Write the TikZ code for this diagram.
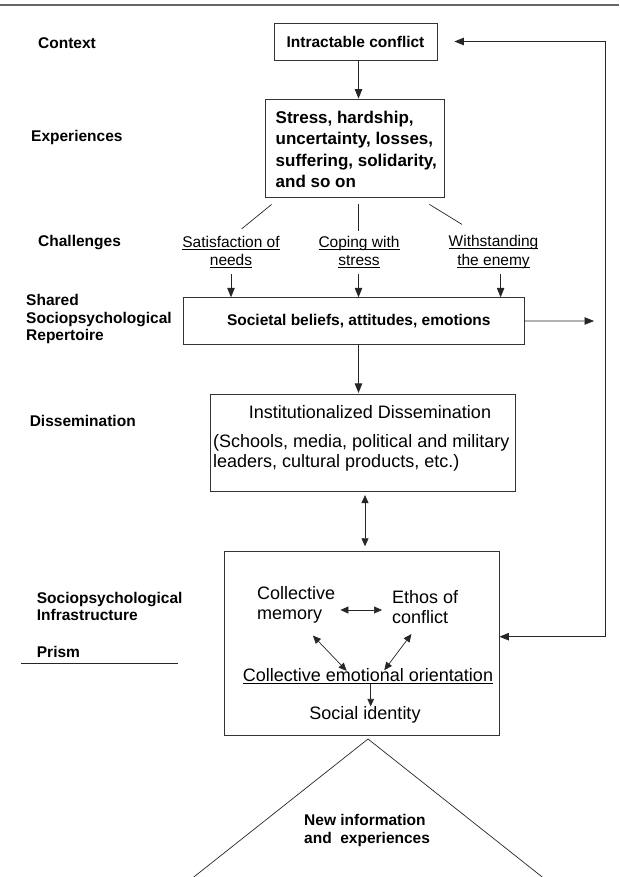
\documentclass[tikz,border=0pt]{standalone}
\usepackage{fontspec}
\setmainfont{Liberation Sans}
\usetikzlibrary{arrows.meta}
\newsavebox{\cajasub}
\newcommand{\subr}[1]{\sbox{\cajasub}{#1}\rlap{\rule[-2.2pt]{\wd\cajasub}{0.7pt}}\usebox{\cajasub}}

\begin{document}
\begin{tikzpicture}[x=1pt, y=-1pt,
    caja/.style={draw=black!80, line width=0.8pt, inner sep=0pt},
    linea/.style={black!85, line width=0.7pt},
    flecha/.style={linea, -{Triangle[length=9.5pt,width=7.5pt]}},
    flechita/.style={linea, -{Triangle[length=7.5pt,width=6.5pt]}},
    dflecha/.style={linea, {Triangle[length=8pt,width=7pt]}-{Triangle[length=8pt,width=7pt]}},
    etiq/.style={anchor=west, align=left, inner sep=0pt, font=\fontsize{15.5}{17.5}\selectfont\bfseries},
    negrita/.style={inner sep=0pt, font=\fontsize{15.5}{18}\selectfont\bfseries},
    reto/.style={align=center, inner sep=0pt, font=\fontsize{15.5}{18.3}\selectfont},
    texto/.style={inner sep=0pt, font=\fontsize{18}{20}\selectfont}]

    \useasboundingbox (0,0) rectangle (619,877);

    % Linea superior
    \draw[black!60, line width=1.8pt] (0,5) -- (619,5);

    % Etiquetas de la izquierda
    \node[etiq] (lcontexto) at (38,43) {Context};
    \node[etiq] (lexper) at (31,137) {Experiences};
    \node[etiq] (lretos) at (38,243) {Challenges};
    \node[etiq] (lrepert) at (26,319) {Shared\\Sociopsychological\\Repertoire};
    \node[etiq] (ldisem) at (29.6,421) {Dissemination};
    \node[etiq] (linfra) at (36.7,606.5) {Sociopsychological\\Infrastructure};
    \node[etiq] (lprisma) at (36.7,652) {Prism};
    \draw[linea] ([xshift=-15.7pt,yshift=-5.5pt]lprisma.south west) -- ++(156.6,0);

    % Conflicto y experiencias
    \coordinate (eje) at (358.5,0);
    \node[caja, negrita, minimum width=163pt, minimum height=37pt] (conflicto) at (355.5,41.5) {Intractable conflict};
    \node[caja, minimum width=179pt, minimum height=98pt] (exper) at (354.5,148) {};
    \node[anchor=north west, align=left, inner sep=0pt, font=\fontsize{17}{21.5}\selectfont\bfseries] (expertxt) at (275.5,110.5)
        {Stress, hardship,\\uncertainty, losses,\\suffering, solidarity,\\and so on};
    \draw[flecha] (conflicto.south -| eje) -- (exper.north -| eje);

    % Retos
    \node[reto] (satis) at (231,252) {\subr{Satisfaction of}\\\subr{needs}};
    \node[reto] (afront) at (359,252) {\subr{Coping with}\\\subr{stress}};
    \node[reto] (resist) at (493.5,252) {\subr{Withstanding}\\\subr{the enemy}};
    \draw[linea] ([shift={(7pt,-7pt)}]exper.south west) -- ([shift={(10.6pt,7pt)}]satis.north);
    \draw[linea] ([shift={(4pt,-7pt)}]exper.south) -- ([shift={(-0.5pt,5pt)}]afront.north);
    \draw[linea] ([shift={(-15pt,-7pt)}]exper.south east) -- ([shift={(-31.5pt,11pt)}]resist.north);

    % Repertorio
    \node[caja, negrita, minimum width=340.4pt, minimum height=46.3pt] (repert) at (353.8,320.9) {\hspace*{10pt}Societal beliefs, attitudes, emotions};
    \coordinate (r1) at (231,274);
    \coordinate (r2) at (358.5,274);
    \coordinate (r3) at (500.6,274);
    \foreach \r in {r1,r2,r3}
        \draw[flecha] (\r) -- (\r |- repert.north);
    \coordinate (salida) at (594,321);
    \draw[flecha] (repert.east) -- (salida);
    \draw[flecha] (repert.south -| eje) -- ++(0,48.5);

    % Diseminacion
    \node[caja, minimum width=305pt, minimum height=97.7pt] (disem) at (362.5,442.85) {};
    \node[texto] (disemtit) at (370,412) {Institutionalized Dissemination};
    \node[texto, anchor=west, align=left] (disemtxt) at (213,453)
        {(Schools, media, political and military\\leaders, cultural products, etc.)};

    % Infraestructura
    \coordinate (eje2) at (365,0);
    \node[caja, minimum width=275pt, minimum height=183.3pt] (infra) at (361.5,643.35) {};
    \draw[dflecha, shorten <=3pt, shorten >=5pt] (disem.south -| eje2) -- (infra.north -| eje2);
    \node[texto, anchor=west, align=left] (memoria) at (257,605) {Collective\\memory};
    \node[texto, anchor=west, align=left] (ethos) at (392,607) {Ethos of\\conflict};
    \node[texto] (orient) at (368,676) {\subr{Collective emotional orientation}};
    \node[texto] (ident) at (365,715) {Social identity};
    \draw[dflecha, shorten <=5pt, shorten >=10pt] ([yshift=-5pt]memoria.east) -- ([yshift=-3pt]ethos.west);
    \draw[dflecha] ([shift={(16.7pt,-12pt)}]memoria.south) -- ([shift={(-21.3pt,-2.7pt)}]orient.north);
    \draw[dflecha] ([shift={(-13.8pt,-10.2pt)}]ethos.south) -- ([shift={(16.3pt,-2pt)}]orient.north);
    \coordinate (eje3) at (370.7,0);
    \draw[flechita] (orient.south -| eje3) -- (ident.north -| eje3);

    % Retroalimentacion
    \coordinate (retorno) at (605,636.7);
    \draw[flecha] (retorno) -- (retorno -| infra.east);
    \draw[flecha, shorten >=17pt] (retorno) -- (retorno |- conflicto.east) -- (conflicto.east);

    % Triangulo de informacion nueva
    \coordinate (pico) at (368,739);
    \draw[linea] (190,880) -- (pico) -- (546,880);
    \node[etiq, font=\fontsize{15.5}{18}\selectfont\bfseries] (nueva) at (304,830) {New information\\and\ \ experiences};
\end{tikzpicture}
\end{document}
